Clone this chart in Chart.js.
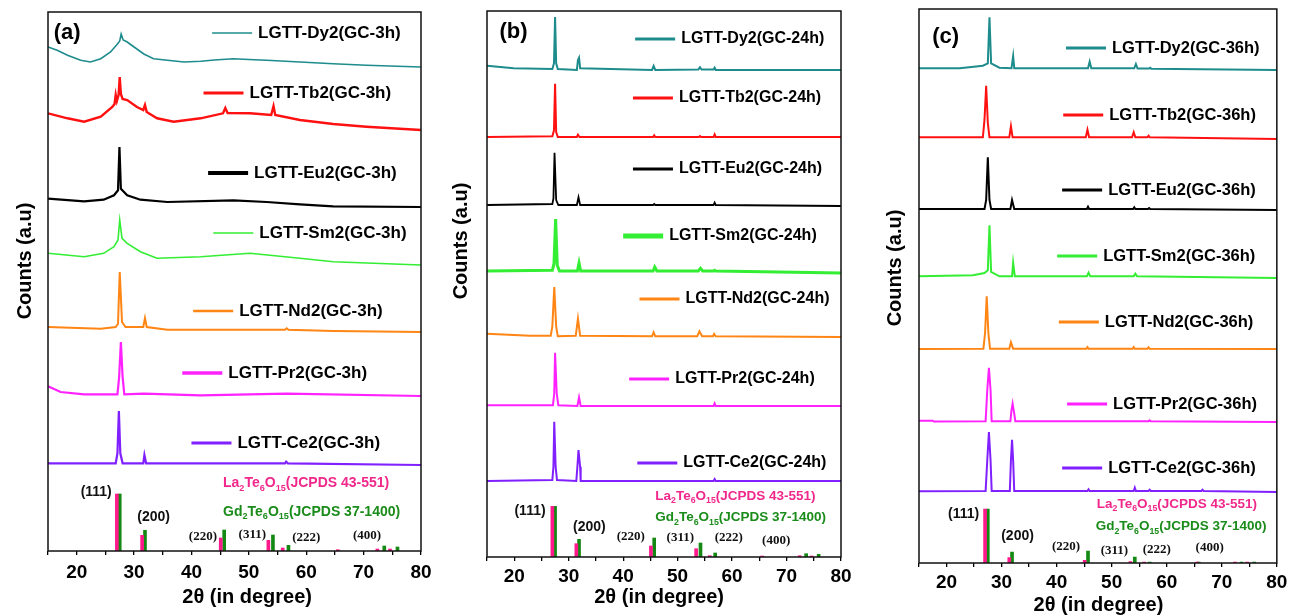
<!DOCTYPE html>
<html>
<head>
<meta charset="utf-8">
<title>XRD patterns of LGTT glass-ceramics</title>
<script src="https://cdn.jsdelivr.net/npm/chart.js@4.4.1/dist/chart.umd.min.js"></script>
<style>
  html, body { margin: 0; padding: 0; background: #fff; }
  #wrap { position: relative; width: 1292px; height: 616px; overflow: hidden; }
  canvas { position: absolute; top: 0; }
</style>
</head>
<body>
<div id="wrap">
  <canvas id="chartA" width="440" height="616" style="left:0px"></canvas>
  <canvas id="chartB" width="440" height="616" style="left:430px"></canvas>
  <canvas id="chartC" width="432" height="616" style="left:860px"></canvas>
</div>
<script>
// samples, top to bottom in every panel
const samples = ['Dy2', 'Tb2', 'Eu2', 'Sm2', 'Nd2', 'Pr2', 'Ce2'];
const hklText = ['(111)', '(200)', '(220)', '(311)', '(222)', '(400)'];

// traces as [2theta, intensity above own baseline] (a.u.)
const a_Dy2 = [[15,20],[16.6,16.7],[18.4,11.7],[20.7,6.7],[22.4,5],[24.2,8.3],[25.9,15],[27.1,23],[27.5,26],[27.75,33],[28.1,27],[28.8,25],[30,20],[31.7,13],[33.4,8.3],[35.8,6.7],[38.7,5],[41.6,5.7],[44,7],[47.3,8.3],[50,7.5],[53.1,6.7],[58.9,5],[64.7,3.3],[70.5,1.7],[80,0]];
const a_Tb2 = [[15,16.7],[18.4,11.7],[21.3,8.3],[24.2,13.3],[26.2,23],[26.6,26],[26.8,35],[27.0,29],[27.3,35],[27.5,53],[27.7,36],[28.0,31],[28.8,30],[30.5,23],[31.6,20],[31.9,25],[32.2,18],[34,11.7],[36.9,8.3],[41.6,11.7],[45.5,16.7],[45.9,22],[46.3,17],[50.2,16.7],[53.9,15],[54.3,24],[54.6,15],[58.9,10],[64.7,6],[70.5,3.3],[80,0]];
const a_Eu2 = [[15,8.3],[21.3,5.7],[24.7,7.3],[26.5,11.7],[27.2,16.7],[27.45,60],[27.7,18.3],[28.8,11.7],[31.1,7.3],[35.8,5],[47.3,6.7],[53.1,5],[58.9,2.7],[64.7,0.7],[80,0]];
const a_Sm2 = [[15,11.7],[21.3,8.3],[24.7,11.7],[26.5,18.3],[27.2,25],[27.5,45],[27.9,26.7],[28.8,21.7],[31.1,13.3],[34,6.7],[41.6,8.3],[50.2,11.7],[58.9,6.7],[64.7,3.3],[80,0]];
const a_Nd2 = [[15,5],[24.2,3.3],[26.8,5],[27.2,8.3],[27.5,60],[27.9,10],[28.5,5],[31.6,5],[31.9,14],[32.2,5],[35.8,2.3],[56.3,2.3],[56.6,3.7],[56.9,2.3],[64.7,1],[80,0]];
const a_Pr2 = [[15,9.7],[17.2,4],[21.3,1.7],[27.1,1.7],[27.4,19],[27.7,54],[28.0,19],[28.3,1.7],[31.7,2.3],[41.6,0.7],[56.6,2.3],[80,0]];
const a_Ce2 = [[15,1.7],[26.8,1.7],[27.1,11.7],[27.35,54],[27.6,11.7],[28.0,1.7],[31.6,1.7],[31.8,10],[32.1,1.7],[56.3,1.7],[56.5,3.3],[56.8,1.7],[80,0]];

const b_Dy2 = [[15,4.3],[19.9,1.7],[27,1],[27.3,6.7],[27.5,53],[27.7,6.7],[28,1],[31.5,0],[31.7,10],[31.9,12.3],[32.1,1.7],[45.3,0],[45.6,4],[45.9,0],[53.8,0.5],[54.1,2.7],[54.4,0.5],[56.6,0.5],[56.8,2.3],[57,0],[80,0]];
const b_Tb2 = [[15,0],[27,0.7],[27.3,6.7],[27.5,53.3],[27.7,5],[28,0],[31.5,0],[31.7,2.3],[32,0],[45.5,0],[45.7,1.7],[45.9,0],[53.9,0],[54.1,1],[54.3,0],[56.6,0],[56.8,2.7],[57,0],[80,0]];
const b_Eu2 = [[15,1],[27,2],[27.2,7.7],[27.4,53.3],[27.7,6],[28.1,1],[31.5,1],[31.8,8.7],[32.1,1],[45.5,1],[45.7,2],[45.9,1],[56.6,1],[56.8,3.3],[57,1],[80,0]];
const b_Sm2 = [[15,2],[27,2.7],[27.3,9.3],[27.6,54],[27.9,7.7],[28.3,2],[31.6,2],[31.9,10],[32.2,2],[45.5,2],[45.8,6],[46.2,2],[53.8,2],[54.2,4.7],[54.6,2],[56.6,2],[56.8,2.7],[57,2],[80,0]];
const b_Nd2 = [[15,3.3],[22.9,1.3],[26.7,1.3],[27.0,10.7],[27.35,50],[27.7,10.7],[28,0.7],[31.3,1.3],[31.7,18.3],[32.1,1.3],[45.3,0.7],[45.6,4.7],[45.9,0.7],[53.6,0.7],[54.0,5.7],[54.5,0.7],[56.5,0.7],[56.7,3],[57,0.7],[80,0]];
const b_Pr2 = [[15,0.7],[27.1,0.7],[27.35,12.7],[27.5,53.3],[27.8,12.7],[28.1,0.7],[31.6,0],[31.9,8.7],[32.2,0],[56.6,0],[56.8,2.7],[57,0],[80,0]];
const b_Ce2 = [[15,0],[27,1],[27.2,14.3],[27.35,59.3],[27.6,14.3],[27.85,1],[31.4,0],[31.6,14.3],[31.8,31],[32.1,14.3],[32.2,0],[56.6,0],[56.8,2],[57,0],[80,0]];

const c_Dy2 = [[15,1.7],[22.4,1.7],[26.6,4.3],[27.5,6.7],[27.8,52.7],[28.1,6.7],[29.6,2.3],[31.8,1.7],[32.1,14],[32.3,1.7],[45.7,1.7],[46,8.3],[46.3,1.7],[54.1,1.7],[54.4,6],[54.7,1.5],[56.8,1.5],[57,2.3],[57.2,1.3],[80,0]];
const c_Tb2 = [[15,1.7],[26.6,1.7],[26.9,19.3],[27.2,53.3],[27.5,16],[27.8,1.7],[31.4,1.7],[31.7,12.7],[32,1.7],[45.3,1.7],[45.6,9.3],[45.9,1.7],[53.7,1.7],[54.0,6.7],[54.3,1.7],[56.5,1.7],[56.7,3.3],[56.9,1.7],[80,0]];
const c_Eu2 = [[15,1],[26.9,1],[27.2,10],[27.5,52.7],[27.8,10],[28.1,1],[31.6,1],[31.9,10],[32.3,1],[45.5,1],[45.7,3.3],[45.9,1],[53.9,1],[54.1,2.7],[54.3,1],[56.6,1],[56.8,2],[57,1],[80,0]];
const c_Sm2 = [[15,1.7],[24.8,2.7],[26.9,5],[27.5,7.7],[27.8,52.7],[28.1,6],[29.6,1.7],[31.9,1.7],[32.1,15.3],[32.4,1.7],[45.5,1.7],[45.8,5.3],[46.1,1.7],[54.0,1.7],[54.3,4.3],[54.6,1.7],[80,0]];
const c_Nd2 = [[15,0],[26.7,0.3],[27.0,16],[27.3,52.7],[27.6,16],[27.9,0.3],[31.4,0.3],[31.7,6.7],[32.1,0.3],[45.4,0.3],[45.6,2],[45.8,0.3],[53.8,0.3],[54.0,2],[54.2,0.3],[56.5,0.3],[56.7,1.7],[56.9,0.3],[80,0]];
const c_Pr2 = [[15,1.3],[17.5,1.3],[17.7,0.5],[27.1,0.7],[27.4,31.7],[27.7,54.3],[28.0,31.7],[28.2,0.7],[31.6,0.7],[31.8,11.7],[32.0,18.3],[32.3,8.3],[32.5,0.7],[56.7,0.7],[56.9,1.7],[57.1,0.7],[80,0]];
const c_Ce2 = [[15,0.7],[27.1,1],[27.4,31.7],[27.7,60],[28.0,31.7],[28.2,1],[31.5,1],[31.7,31.7],[31.9,52.3],[32.1,31.7],[32.3,1],[45.6,1],[45.8,2.7],[46.0,1],[54.0,1],[54.2,4.3],[54.4,1],[56.7,1],[56.9,2.3],[57.1,1],[66.3,1],[66.5,2.3],[66.7,1],[80,0]];

// vertical shift of each trace (a.u.), same order as samples
const offsetsA = [484, 421, 344, 286, 219, 155, 86];
const offsetsB = [487, 420, 351, 284, 220, 151, 76];
const offsetsC = [493, 424, 353, 285, 214, 141, 71];

// reference patterns (stick heights in a.u.)
const laPos = [27.0, 31.4, 45.1, 53.4, 55.9, 65.5, 72.4, 74.6];
const laA = [57, 15.7, 13, 10.7, 3, 1.3, 2, 2];
const laB = [50.7, 13.3, 11, 8.3, 1.3, 1, 1.3, 1];
const laC = [54, 5.3, 2.7, 1.5, 1, 1, 1, 1];
const gdPos = [27.5, 31.9, 45.7, 54.2, 56.9, 65.8, 73.6, 75.9];
const gdA = [57, 20.7, 21, 16, 5.7, 0, 5, 4];
const gdB = [50.7, 17.7, 19, 14, 4, 0, 3.3, 2.7];
const gdC = [54, 11, 12, 6, 1, 1, 1, 1];

const colors = ['#1e8c8c', '#ff1111', '#000000', '#33ee33', '#ff8515', '#ff22ff', '#8020ff'];
const SANS = "'Liberation Sans', Arial, Helvetica, sans-serif";
const SERIF = "'Liberation Serif', 'Times New Roman', serif";

const panels = [
  { id: 'chartA', time: '3h', traces: [a_Dy2, a_Tb2, a_Eu2, a_Sm2, a_Nd2, a_Pr2, a_Ce2], offsets: offsetsA, la: laA, gd: gdA,
    yMax: 539, top: 12, right: 19, yw: 48, xh: 65, tickPad: 6.6,
    widths: [1.6, 2.4, 2.2, 1.6, 2, 2.2, 2.2], keyWidth: [1.3, 3, 4, 1.3, 2.5, 3.5, 3], keyFont: 17,
    letter: '(a)', letterAt: [16, 518],
    keyAt: [[43.6, 518], [42.1, 458], [42.9, 378], [43.8, 318], [40.3, 240], [38.4, 178], [40.0, 108]],
    hklAt: [[23.4, 59.3], [33.4, 34], [42.0, 14.3], [50.6, 16], [60.0, 13.3], [70.6, 15]],
    laAt: [45.5, 67.7], gdAt: [45.5, 39.3], refFont: 14,
    yTitle: [25, 290], xTitle: [49.7, 46] },
  { id: 'chartB', time: '24h', traces: [b_Dy2, b_Tb2, b_Eu2, b_Sm2, b_Nd2, b_Pr2, b_Ce2], offsets: offsetsB, la: laB, gd: gdB,
    yMax: 546, top: 11, right: 29, yw: 57, xh: 59, tickPad: 4.6,
    widths: [2, 2, 1.8, 3, 2, 2, 2], keyWidth: [3, 3, 3, 5, 3, 3, 3], keyFont: 16,
    letter: '(b)', letterAt: [17.3, 525],
    keyAt: [[42.2, 518], [41.8, 459], [41.8, 388], [40.0, 321], [43.0, 258], [41.1, 178], [42.6, 94]],
    hklAt: [[22.9, 46], [33.8, 30.3], [41.4, 20.3], [50.5, 19.3], [59.4, 19.3], [68.1, 16]],
    laAt: [45.9, 61], gdAt: [45.9, 39.3], refFont: 13.5,
    yTitle: [31, 316], xTitle: [46.6, 40] },
  { id: 'chartC', time: '36h', traces: [c_Dy2, c_Tb2, c_Eu2, c_Sm2, c_Nd2, c_Pr2, c_Ce2], offsets: offsetsC, la: laC, gd: gdC,
    yMax: 554, top: 9, right: 11, yw: 59, xh: 53, tickPad: 4.6,
    widths: [2, 2, 2, 2, 2, 2, 2], keyWidth: [3, 3, 3, 3, 3, 3, 3], keyFont: 16.5,
    letter: '(c)', letterAt: [17.4, 526],
    keyAt: [[41.7, 515], [41.2, 448], [41.0, 373], [40.1, 307], [40.4, 241], [41.9, 159], [41.0, 95]],
    hklAt: [[23.1, 48.7], [32.9, 27], [41.7, 16.3], [50.5, 12], [58.2, 13], [67.8, 15.3]],
    laAt: [47.3, 59], gdAt: [47.1, 36.3], refFont: 13.5,
    yTitle: [35, 295], xTitle: [47.6, 42] }
];
const layoutById = {};
panels.forEach(p => { layoutById[p.id] = p; });

// text with subscripts, e.g. La2Te6O15
const richText = (ctx, parts, x, y, size) => {
  parts.forEach(([t, sub]) => {
    ctx.font = `bold ${sub ? size * 0.65 : size}px ${SANS}`;
    ctx.fillText(t, x, sub ? y + size * 0.35 : y);
    x += ctx.measureText(t).width;
  });
};

const notesPlugin = {
  id: 'notes',
  afterDraw(chart) {
    const p = layoutById[chart.canvas.id];
    const { ctx, chartArea: ca, scales: { x, y } } = chart;
    const px = v => x.getPixelForValue(v);
    const py = v => y.getPixelForValue(v);
    ctx.save();
    ctx.strokeStyle = '#111';
    ctx.lineWidth = 1.5;
    ctx.strokeRect(ca.left, ca.top, ca.right - ca.left, ca.bottom - ca.top);

    ctx.fillStyle = '#000';
    ctx.textBaseline = 'middle';
    ctx.textAlign = 'left';
    ctx.font = `bold 22px ${SANS}`;
    ctx.fillText(p.letter, px(p.letterAt[0]), py(p.letterAt[1]));

    // legend keys next to each trace
    p.keyAt.forEach(([t, v], i) => {
      const ds = chart.data.datasets[i];
      const x0 = px(t), y0 = py(v);
      ctx.strokeStyle = ds.borderColor;
      ctx.lineWidth = p.keyWidth[i];
      ctx.beginPath();
      ctx.moveTo(x0, y0);
      ctx.lineTo(x0 + 40, y0);
      ctx.stroke();
      ctx.fillStyle = '#000';
      ctx.font = `bold ${p.keyFont}px ${SANS}`;
      ctx.fillText(ds.label, x0 + 46, y0);
    });

    // Miller indices of the reference peaks
    ctx.textAlign = 'center';
    hklText.forEach((t, i) => {
      ctx.font = i < 2 ? `bold 14px ${SANS}` : `bold 13px ${SERIF}`;
      ctx.fillStyle = '#111';
      ctx.fillText(t, px(p.hklAt[i][0]), py(p.hklAt[i][1]));
    });

    ctx.textAlign = 'left';
    ctx.fillStyle = '#f0288c';
    richText(ctx, [['La'], ['2', 1], ['Te'], ['6', 1], ['O'], ['15', 1], ['(JCPDS 43-551)']], px(p.laAt[0]), py(p.laAt[1]), p.refFont);
    ctx.fillStyle = '#1a8c1a';
    richText(ctx, [['Gd'], ['2', 1], ['Te'], ['6', 1], ['O'], ['15', 1], ['(JCPDS 37-1400)']], px(p.gdAt[0]), py(p.gdAt[1]), p.refFont);

    // axis titles
    ctx.fillStyle = '#000';
    ctx.textAlign = 'center';
    ctx.font = `bold 20px ${SANS}`;
    ctx.fillText('2θ (in degree)', px(p.xTitle[0]), ca.bottom + p.xTitle[1]);
    ctx.translate(p.yTitle[0], py(p.yTitle[1]));
    ctx.rotate(-Math.PI / 2);
    ctx.fillText('Counts (a.u)', 0, 0);
    ctx.restore();
  }
};

Chart.defaults.font.family = SANS;
Chart.defaults.color = '#000';

panels.forEach(p => {
  const lineSets = p.traces.map((tr, i) => ({
    type: 'line',
    label: `LGTT-${samples[i]}(GC-${p.time})`,
    data: tr.map(([t, v]) => ({ x: t, y: v + p.offsets[i] })),
    borderColor: colors[i],
    borderWidth: p.widths[i],
    pointRadius: 0,
    tension: 0,
    fill: false
  }));
  const stickSet = (pos, h, color, label) => ({
    type: 'bar',
    label: label,
    data: pos.map((t, i) => ({ x: t, y: h[i] })),
    backgroundColor: color,
    borderWidth: 0,
    barThickness: 3,
    grouped: false
  });

  new Chart(document.getElementById(p.id), {
    type: 'line',
    data: {
      datasets: [
        ...lineSets,
        stickSet(laPos, p.la, '#ff1a8c', 'La2Te6O15'),
        stickSet(gdPos, p.gd, '#148a14', 'Gd2Te6O15')
      ]
    },
    options: {
      responsive: false,
      animation: false,
      devicePixelRatio: 1,
      layout: { autoPadding: false, padding: { top: p.top, right: p.right, left: 0, bottom: 0 } },
      plugins: { legend: { display: false }, tooltip: { enabled: false } },
      scales: {
        x: {
          type: 'linear', min: 15, max: 80, offset: false,
          afterFit: s => { s.height = p.xh; },
          border: { display: false },
          grid: { offset: false, drawOnChartArea: false, drawTicks: true, tickLength: 4, color: '#000', lineWidth: 1.3 },
          ticks: {
            stepSize: 5, autoSkip: false, maxRotation: 0, padding: p.tickPad, color: '#000',
            font: { size: 19, weight: 'bold' },
            callback: v => (v % 10 === 0 ? v : '')
          }
        },
        y: {
          type: 'linear', min: 0, max: p.yMax,
          afterFit: s => { s.width = p.yw; },
          border: { display: false },
          grid: { display: false },
          ticks: { display: false }
        }
      }
    },
    plugins: [notesPlugin]
  });
});
</script>
</body>
</html>
